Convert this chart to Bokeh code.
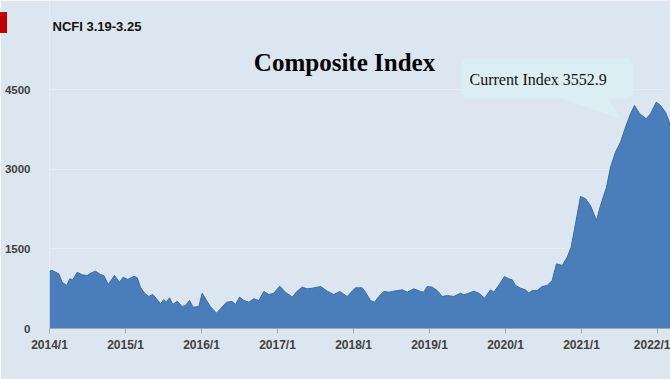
import numpy as np
from bokeh.plotting import figure
from bokeh.models import Label, PolyAnnotation, FixedTicker, InlineStyleSheet
from bokeh.embed import file_html
from bokeh.resources import INLINE

# ---- data (decimal year, composite index) ----
period = [2014.000, 2014.035, 2014.122, 2014.167, 2014.224, 2014.267, 2014.307, 2014.364,
          2014.430, 2014.496, 2014.539, 2014.605, 2014.671, 2014.715, 2014.772, 2014.855,
          2014.921, 2014.969, 2015.031, 2015.110, 2015.154, 2015.197, 2015.250, 2015.307,
          2015.360, 2015.408, 2015.461, 2015.504, 2015.535, 2015.579, 2015.623, 2015.680,
          2015.746, 2015.789, 2015.842, 2015.890, 2015.965, 2016.009, 2016.061, 2016.118,
          2016.197, 2016.250, 2016.329, 2016.404, 2016.447, 2016.500, 2016.557, 2016.622,
          2016.688, 2016.754, 2016.820, 2016.886, 2016.951, 2017.030, 2017.105, 2017.193,
          2017.259, 2017.325, 2017.391, 2017.457, 2017.522, 2017.566, 2017.654, 2017.741,
          2017.820, 2017.917, 2018.026, 2018.114, 2018.158, 2018.224, 2018.276, 2018.333,
          2018.399, 2018.464, 2018.530, 2018.641, 2018.707, 2018.793, 2018.882, 2018.925,
          2018.970, 2019.036, 2019.101, 2019.167, 2019.233, 2019.320, 2019.408, 2019.451,
          2019.517, 2019.583, 2019.649, 2019.724, 2019.803, 2019.846, 2019.925, 2019.987,
          2020.043, 2020.088, 2020.132, 2020.197, 2020.263, 2020.307, 2020.351, 2020.417,
          2020.483, 2020.549, 2020.614, 2020.671, 2020.746, 2020.812, 2020.864, 2020.921,
          2020.987, 2021.053, 2021.118, 2021.197, 2021.250, 2021.329, 2021.382, 2021.447,
          2021.513, 2021.579, 2021.645, 2021.697, 2021.767, 2021.851, 2021.908, 2021.983,
          2022.039, 2022.105, 2022.149, 2022.220]
index_value = [1080, 1092, 1030, 872, 810, 935, 917, 1060,
               1010, 998, 1041, 1079, 1017, 998, 828, 998,
               872, 966, 923, 985, 955, 778, 665, 603,
               640, 559, 465, 546, 495, 578, 452, 514,
               414, 433, 527, 401, 414, 665, 540, 410,
               289, 371, 495, 508, 452, 590, 527, 495,
               559, 527, 697, 640, 665, 797, 684, 590,
               703, 778, 747, 759, 778, 791, 703, 640,
               697, 603, 766, 766, 684, 527, 495, 603,
               697, 684, 703, 728, 684, 747, 697, 684,
               791, 778, 715, 603, 621, 603, 665, 634,
               665, 703, 665, 571, 728, 684, 841, 979,
               935, 917, 810, 759, 728, 665, 715, 715,
               791, 810, 904, 1218, 1186, 1343, 1531, 1971,
               2486, 2442, 2316, 2034, 2316, 2661, 3038, 3320,
               3508, 3791, 4043, 4199, 4043, 3949, 4043, 4261,
               4199, 4073, 3917, 3552.9]

year_ticks = [2014, 2015, 2016, 2017, 2018, 2019, 2020, 2021, 2022]
year_labels = ["2014/1", "2015/1", "2016/1", "2017/1", "2018/1",
               "2019/1", "2020/1", "2021/1", "2022/1"]
value_ticks = [0, 1500, 3000, 4500]

title_text = "Composite Index"
subtitle_text = "NCFI 3.19-3.25"
callout_text = "Current Index 3552.9"

BG = "#dce6f1"

p = figure(width=670, height=379, output_backend="svg", toolbar_location=None,
           x_range=(2014.0, 2022.171), y_range=(0, 6176),
           min_border_left=49, min_border_right=0, min_border_top=0, min_border_bottom=51,
           background_fill_color=BG, border_fill_color=BG, outline_line_color=None)

# small red marker at the top-left corner of the page (pure CSS decoration)
p.stylesheets = [InlineStyleSheet(css=(
    ":host { position: relative; }"
    ":host::after { content: ''; position: absolute; left: 0px; top: 12px;"
    " width: 7px; height: 21px; background: #c00000; z-index: 100; }"))]

p.varea(x=period, y1=0, y2=index_value, fill_color="#4a7ebb")
p.line(x=period, y=index_value, line_color="#3c6aa3", line_width=1)

# axes
p.xaxis.ticker = FixedTicker(ticks=year_ticks)
p.xaxis.major_label_overrides = {t: l for t, l in zip(year_ticks, year_labels)}
p.xaxis.axis_line_color = "#a6a6a6"
p.xaxis.major_tick_line_color = "#a6a6a6"
p.xaxis.major_tick_out = 5
p.xaxis.major_tick_in = 0
p.xaxis.minor_tick_line_color = None
p.xaxis.major_label_standoff = 4
p.xaxis.major_label_text_font = "Liberation Sans"
p.xaxis.major_label_text_font_style = "bold"
p.xaxis.major_label_text_font_size = "12px"
p.xaxis.major_label_text_color = "#404040"

p.yaxis.ticker = FixedTicker(ticks=value_ticks)
p.yaxis.axis_line_color = None
p.yaxis.major_tick_line_color = None
p.yaxis.minor_tick_line_color = None
p.yaxis.major_label_standoff = 13
p.yaxis.major_label_text_font = "Liberation Sans"
p.yaxis.major_label_text_font_style = "bold"
p.yaxis.major_label_text_font_size = "11.5px"
p.yaxis.major_label_text_color = "#404040"

p.xgrid.visible = False
p.ygrid.ticker = FixedTicker(ticks=value_ticks)
p.ygrid.grid_line_color = "#e8edf3"
p.ygrid.grid_line_width = 1

p.add_layout(Label(x=3, y=302, x_units="screen", y_units="screen", text=subtitle_text,
                   text_font="Liberation Sans", text_font_style="bold",
                   text_font_size="13px", text_color="#111111", text_baseline="middle"))
p.add_layout(Label(x=295, y=266, x_units="screen", y_units="screen", text=title_text,
                   text_font="Liberation Serif", text_font_style="bold",
                   text_font_size="25px", text_color="#000000",
                   text_align="center", text_baseline="alphabetic"))

# callout bubble (screen units, y up from frame bottom)
def bubble(x0, x1, y0, y1, r, t0, t1, tx, ty, n=6):
    xs, ys = [], []
    def arc(cx, cy, a0, a1):
        for a in np.linspace(a0, a1, n):
            xs.append(cx + r * np.cos(a)); ys.append(cy + r * np.sin(a))
    arc(x0 + r, y0 + r, np.pi, 1.5 * np.pi)         # bottom-left
    xs.extend([t0, tx, t1]); ys.extend([y0, ty, y0])  # tail
    arc(x1 - r, y0 + r, 1.5 * np.pi, 2 * np.pi)      # bottom-right
    arc(x1 - r, y1 - r, 0, 0.5 * np.pi)              # top-right
    arc(x0 + r, y1 - r, 0.5 * np.pi, np.pi)          # top-left
    return xs, ys

bx, by = bubble(412, 584, 230, 270, 7, 512, 558, 571, 210)
p.add_layout(PolyAnnotation(xs=bx, ys=by, xs_units="screen", ys_units="screen",
                            fill_color="#daeef3", fill_alpha=1, line_color=None))
p.add_layout(Label(x=420, y=249, x_units="screen", y_units="screen", text=callout_text,
                   text_font="Liberation Serif", text_font_size="16px",
                   text_color="#111111", text_baseline="alphabetic"))

open("out.html", "w").write(file_html(p, INLINE))
